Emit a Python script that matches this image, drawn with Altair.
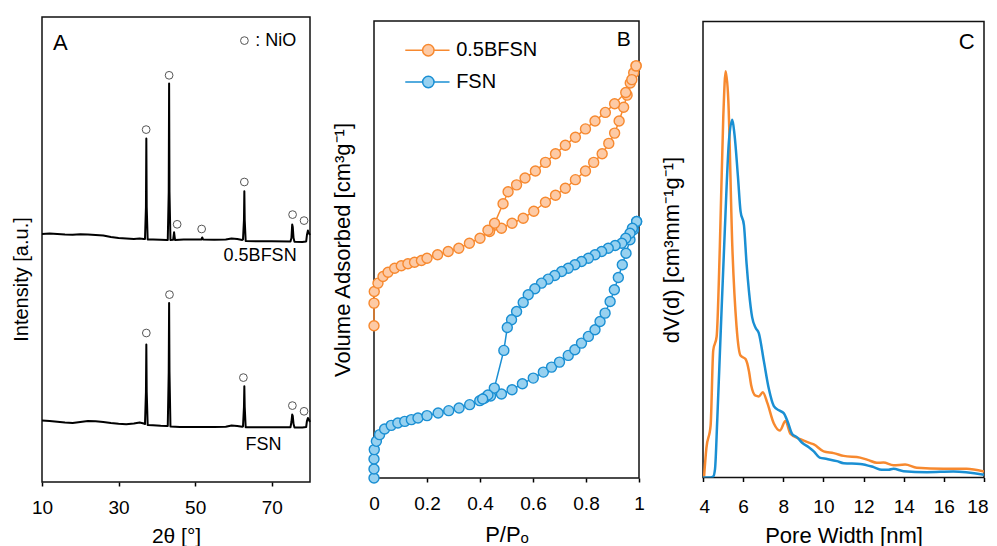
import altair as alt
import pandas as pd

# ---------------- Panel A : XRD patterns ----------------
bfsn_theta = [10, 12, 14, 16, 18, 20, 22, 24, 26, 28, 30, 32, 34, 35.5, 36.6,
              36.9, 37.15, 37.25, 37.35, 37.6,
              39, 41, 42.6,
              42.85, 43.1, 43.2, 43.3, 43.55,
              44.25, 44.5, 44.75,
              47, 50, 51.6, 51.85, 52.1, 55, 58, 59.5, 61, 62.3,
              62.5, 62.75, 62.85, 62.95, 63.2,
              66, 70, 74.9,
              75.15, 75.35, 75.5, 75.7, 75.95,
              78, 79, 79.2, 79.45, 79.7, 80]
bfsn_int = [248, 248.5, 248, 247.5, 247.3, 247.7, 247.5, 247, 246.5, 245, 244, 243.5, 243, 243.5, 243,
            243, 275, 343.4, 275, 242.5,
            242.5, 242.2, 242,
            242, 290, 398.4, 290, 242,
            242.2, 249.7, 242,
            242.4, 242.4, 242.4, 244.5, 242.4, 242.2, 242.5, 243.5, 243, 242,
            242.5, 262, 290.7, 262, 241,
            240.8, 240.7, 240.5,
            244, 257.4, 255, 244, 240.3,
            240, 240.5, 247, 251.4, 249, 247]

fsn_theta = [10, 12, 14, 16, 18, 20, 22, 24, 26, 28, 30, 32, 34, 35.5, 36.6,
             36.9, 37.15, 37.25, 37.35, 37.6,
             39, 41, 42.6,
             42.85, 43.1, 43.2, 43.3, 43.55,
             46, 50, 55, 58, 59.5, 61, 62.3,
             62.5, 62.75, 62.85, 62.95, 63.2,
             66, 70, 74.9,
             75.15, 75.35, 75.5, 75.7, 75.95,
             78, 79, 79.2, 79.45, 79.7, 80]
fsn_int = [61.4, 61, 60.2, 59.5, 59, 60, 61, 60.7, 60, 59, 58.3, 57.8, 58.5, 59.5, 58.5,
           58, 90, 137.4, 90, 57,
           56.7, 56.2, 56,
           56, 110, 179, 110, 55.5,
           55, 55, 55, 55.3, 56.5, 56, 55.3,
           55.5, 75, 95.7, 75, 54.7,
           54.7, 54.7, 54.7,
           60, 67.4, 66, 58, 54.5,
           54.5, 55, 61, 64, 62.5, 60]

nio_theta = [37.2, 43.2, 45.3, 51.7, 62.85, 75.45, 78.45,
             37.25, 43.3, 62.6, 75.4, 78.45, 62.87]
nio_int = [352.4, 406.7, 257.7, 253, 300, 267.4, 261.4,
           149, 187.4, 104.4, 76.4, 70.7, 441.4]

# ---------------- Panel B : N2 isotherms ----------------
fsn_ads_p = [0.0, 0.0, 0.0, 0.001, 0.009, 0.021, 0.04, 0.065, 0.09, 0.116, 0.141, 0.166,
             0.2, 0.242, 0.282, 0.321, 0.361, 0.399, 0.418, 0.44, 0.481, 0.521, 0.56, 0.601,
             0.639, 0.67, 0.70, 0.733, 0.758, 0.783, 0.809, 0.834, 0.853, 0.872, 0.891,
             0.907, 0.922, 0.937, 0.951, 0.966, 0.979, 0.991]
fsn_ads_v = [0, 9, 19, 28.4, 36.7, 43.4, 49, 52.7, 55, 56.7, 58.4, 60,
             62.4, 65, 67.4, 70, 73.4, 77.4, 80, 82, 84, 88.4, 94.4, 100,
             106, 111, 116, 122.7, 128.4, 135, 141.7, 148.4, 156.7, 165, 176.7,
             188.4, 200.7, 213.4, 225, 238.4, 248.4, 256.7]
fsn_des_p = [0.991, 0.975, 0.966, 0.95, 0.935, 0.91, 0.884, 0.859, 0.834, 0.809, 0.783,
             0.758, 0.733, 0.708, 0.682, 0.657, 0.632, 0.607, 0.582, 0.563, 0.538, 0.519,
             0.503, 0.49, 0.454, 0.43, 0.41]
fsn_des_v = [256.7, 250, 245, 240, 235, 232.7, 230, 226.7, 223.4, 220, 216.7,
             213.4, 210, 206.7, 202.7, 199, 195, 189.4, 183.4, 175.7, 166.7, 158.4,
             150.7, 127.7, 90, 83, 79]
bfsn_ads_p = [0.0, 0.0, 0.001, 0.015, 0.034, 0.053, 0.078, 0.103, 0.128, 0.153, 0.179,
              0.2, 0.24, 0.28, 0.32, 0.36, 0.4, 0.436, 0.481, 0.521, 0.563, 0.603, 0.647,
              0.685, 0.722, 0.76, 0.798, 0.829, 0.861, 0.886, 0.908, 0.925, 0.942, 0.955,
              0.967, 0.98, 0.989]
bfsn_ads_v = [152.4, 175, 186.7, 195, 201.7, 206, 210, 212.4, 214.4, 216, 217.7,
              220, 223.4, 226.7, 230, 235, 240, 246.7, 250, 255, 260, 267, 276,
              283, 290, 298.6, 307.2, 315.9, 324.5, 334.9, 345.2, 357.3, 371.1, 383.2,
              395.3, 405.6, 412.5]
bfsn_des_p = [0.989, 0.973, 0.95, 0.908, 0.873, 0.834, 0.798, 0.76, 0.722, 0.685, 0.647,
              0.609, 0.57, 0.538, 0.506, 0.487, 0.455, 0.43]
bfsn_des_v = [412.5, 398.7, 385.9, 374.6, 365.9, 357.3, 349.4, 341.1, 333.1, 324.5, 315.9,
              307.2, 300.3, 293.4, 286.5, 274.5, 255, 248]

# ---------------- Panel C : pore size distribution ----------------
bfsn_w = [4.05, 4.17, 4.38, 4.51, 4.68, 4.84, 5.01, 5.13, 5.26, 5.46, 5.67, 5.87, 6.12,
          6.29, 6.4, 6.62, 6.78, 6.98, 7.2, 7.53, 7.83, 8.11, 8.36, 8.85, 9.27, 9.52,
          10.01, 10.51, 11.01, 11.83, 12.25, 12.66, 12.99, 13.49, 14.07, 14.65, 15.98,
          17.13, 18.0]
bfsn_dv = [0, 29.6, 52.2, 127.1, 141, 231.5, 360.3, 406.2, 377.7, 231.5, 151.4, 121.9, 118.4,
           106.2, 92.3, 81.8, 81.1, 85.3, 74.9, 54, 47, 56.4, 43.5, 38.3, 34.8, 33.1,
           26.1, 24.4, 21.6, 19.9, 17.4, 14.7, 15, 12.2, 12.9, 9.8, 8.7,
           8.7, 6]
fsn_w = [4.0, 4.38, 4.51, 4.6, 4.71, 4.88, 5.09, 5.29, 5.46, 5.57, 5.74, 5.87, 6.04, 6.17,
         6.29, 6.45, 6.62, 6.78, 7.03, 7.28, 7.53, 7.78, 8.02, 8.22, 8.44, 8.69, 8.94,
         9.27, 9.52, 9.81, 10.18, 10.67, 11.01, 11.83, 12.5, 12.91, 13.24, 13.49, 13.99,
         15.15, 16.47, 18.0]
fsn_dv = [0, 0, 1, 8.7, 57.4, 144.4, 248.9, 335.9, 357.8, 342.9, 301.1, 266.3, 252.4, 214.1,
          186.2, 160.1, 149.7, 144.4, 116.6, 88.7, 71.4, 67.2, 64.4, 55.7, 43.5, 40.1, 34.8,
          30.3, 26.1, 19.9, 18.5, 16.4, 14.3, 13.6, 10.4, 7.7, 7.7, 8.7, 6.3,
          5.3, 6, 2.8]

samples = ["0.5BFSN", "FSN"]
ORANGE, ORANGE_FILL = "#f7892f", "#fdcaa5"
BLUE, BLUE_FILL = "#1a8fd3", "#97d1f0"
FONT = "Liberation Sans"


def series(xs, ys, sample, branch):
    return pd.DataFrame({"x": xs, "y": ys, "sample": sample,
                         "series": sample + branch, "idx": list(range(len(xs)))})


stroke_scale = alt.Scale(domain=samples, range=[ORANGE, BLUE])
fill_scale = alt.Scale(domain=samples, range=[ORANGE_FILL, BLUE_FILL])


def xaxis(values, title, tsize, lpad, tpad, fmt=None, flush=False, flush_off=0):
    kw = dict(values=values, title=title, titleFontSize=tsize, tickSize=4, tickWidth=1.5,
              tickColor="black", labelFontSize=19, labelPadding=lpad, labelColor="black",
              labelFlush=flush, domain=False, grid=False, titleColor="black",
              titleFontWeight="normal", titlePadding=tpad, labelFont=FONT, titleFont=FONT)
    if flush:
        kw["labelFlushOffset"] = flush_off
    if fmt:
        kw["format"] = fmt
    return alt.Axis(**kw)


ynone = dict(labels=False, ticks=False, domain=False, grid=False,
             titleColor="black", titleFontWeight="normal", titleFont=FONT)

# ---- A ----
dfA = pd.concat([series(bfsn_theta, bfsn_int, "0.5BFSN", "a"),
                 series(fsn_theta, fsn_int, "FSN", "a")])
dfNiO = pd.DataFrame({"x": nio_theta, "y": nio_int})
xA = alt.X("x:Q", scale=alt.Scale(domain=[10, 80], nice=False, zero=False),
           axis=xaxis([10, 30, 50, 70], "2θ [°]", 21, 12, 8))
yA = alt.Y("y:Q", scale=alt.Scale(domain=[0, 465], nice=False),
           axis=alt.Axis(title="Intensity [a.u.]", titleFontSize=20, titlePadding=10.5,
                         titleY=262, **ynone))
lineA = alt.Chart(dfA).mark_line(color="black", strokeWidth=2, strokeJoin="round").encode(
    x=xA, y=yA, detail="series:N", order="idx:Q")
ptsA = alt.Chart(dfNiO).mark_point(shape="circle", filled=False, color="#555555", size=60,
                                   strokeWidth=1, opacity=1).encode(x="x:Q", y="y:Q")
annA = pd.DataFrame({"x": [66.97, 67.84], "y": [226.3, 36.6], "t": ["0.5BFSN", "FSN"]})
txtA = alt.Chart(annA).mark_text(fontSize=18, font=FONT, color="black").encode(
    x="x:Q", y="y:Q", text="t:N")
letA = alt.Chart(pd.DataFrame({"x": [14.79], "y": [439.3], "t": ["A"]})).mark_text(
    fontSize=22, font=FONT, color="black").encode(x="x:Q", y="y:Q", text="t:N")
keyA = alt.Chart(pd.DataFrame({"x": [65.67], "y": [441.4], "t": [": NiO"]})).mark_text(
    fontSize=18, font=FONT, color="black", align="left").encode(x="x:Q", y="y:Q", text="t:N")
panelA = alt.layer(lineA, ptsA, txtA, letA, keyA).properties(width=268, height=465)

# ---- B ----
dfB = pd.concat([series(fsn_ads_p, fsn_ads_v, "FSN", "ads"),
                 series(fsn_des_p, fsn_des_v, "FSN", "des"),
                 series(bfsn_ads_p, bfsn_ads_v, "0.5BFSN", "ads"),
                 series(bfsn_des_p, bfsn_des_v, "0.5BFSN", "des")])
xB = alt.X("x:Q", scale=alt.Scale(domain=[0, 1], nice=False, zero=False),
           axis=xaxis([0, 0.2, 0.4, 0.6, 0.8, 1], "P/Pₒ", 22, 12.5, 11, fmt="~g"))
yB = alt.Y("y:Q", scale=alt.Scale(domain=[0, 457.4], nice=False),
           axis=alt.Axis(title="Volume Adsorbed [cm³g⁻¹]", titleFontSize=22, titlePadding=20,
                         **ynone))
lineB = alt.Chart(dfB).mark_line(strokeWidth=1.5).encode(
    x=xB, y=yB, stroke=alt.Stroke("sample:N", scale=stroke_scale, legend=None),
    detail="series:N", order="idx:Q")
ptsB = alt.Chart(dfB).mark_point(shape="circle", filled=True, size=100, strokeWidth=1.4,
                                 opacity=1).encode(
    x="x:Q", y="y:Q",
    stroke=alt.Stroke("sample:N", scale=stroke_scale, legend=None),
    fill=alt.Fill("sample:N", scale=fill_scale, legend=None))
legB = pd.DataFrame({"sample": samples, "x1": [0.118, 0.118], "x2": [0.285, 0.285],
                     "xc": [0.205, 0.205], "xt": [0.31, 0.31], "y": [428.1, 396.3]})
legRule = alt.Chart(legB).mark_rule(strokeWidth=1.5).encode(
    x="x1:Q", x2="x2:Q", y="y:Q",
    stroke=alt.Stroke("sample:N", scale=stroke_scale, legend=None))
legPt = alt.Chart(legB).mark_point(shape="circle", filled=True, size=130, strokeWidth=1.5,
                                   opacity=1).encode(
    x="xc:Q", y="y:Q",
    stroke=alt.Stroke("sample:N", scale=stroke_scale, legend=None),
    fill=alt.Fill("sample:N", scale=fill_scale, legend=None))
legTxt = alt.Chart(legB).mark_text(fontSize=20, font=FONT, color="black", align="left").encode(
    x="xt:Q", y="y:Q", text="sample:N")
letB = alt.Chart(pd.DataFrame({"x": [0.942], "y": [438.4], "t": ["B"]})).mark_text(
    fontSize=21, font=FONT, color="black").encode(x="x:Q", y="y:Q", text="t:N")
panelB = alt.layer(lineB, ptsB, legRule, legPt, legTxt, letB).properties(width=265, height=457)

# ---- C ----
dfC = pd.concat([series(bfsn_w, bfsn_dv, "0.5BFSN", "p"),
                 series(fsn_w, fsn_dv, "FSN", "p")])
xC = alt.X("x:Q", scale=alt.Scale(domain=[4, 18], nice=False, zero=False),
           axis=xaxis(list(range(4, 19, 2)), "Pore Width [nm]", 22, 15.5, 9,
                      flush=True, flush_off=4))
yC = alt.Y("y:Q", scale=alt.Scale(domain=[0, 456], nice=False),
           axis=alt.Axis(title="dV(d) [cm³mm⁻¹g⁻¹]", titleFontSize=22, titlePadding=20,
                         **ynone))
lineC = alt.Chart(dfC).mark_line(strokeWidth=2.5, interpolate="monotone", clip=True).encode(
    x=xC, y=yC, stroke=alt.Stroke("sample:N", scale=stroke_scale, legend=None),
    detail="series:N", order="idx:Q")
letC = alt.Chart(pd.DataFrame({"x": [17.14], "y": [435.1], "t": ["C"]})).mark_text(
    fontSize=22, font=FONT, color="black").encode(x="x:Q", y="y:Q", text="t:N")
panelC = alt.layer(lineC, letC).properties(width=281, height=456)

chart = alt.hconcat(panelA, panelB, panelC, spacing=64, bounds="flush", center=True).properties(
    padding={"left": 2, "top": 8, "right": 0, "bottom": 0}
).configure(font=FONT).configure_view(stroke="#111111", strokeWidth=1.5)

chart.save("out.html", embed_options={"renderer": "svg", "actions": False})
